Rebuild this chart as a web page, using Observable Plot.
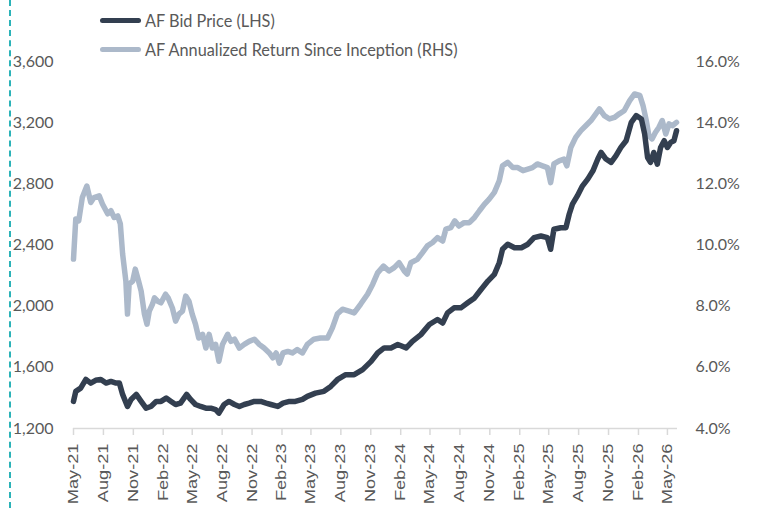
<!DOCTYPE html>
<html>
<head>
<meta charset="utf-8">
<script src="https://cdn.jsdelivr.net/npm/d3@7"></script>
<script src="https://cdn.jsdelivr.net/npm/@observablehq/plot@0.6"></script>
<style>
  body { margin: 0; background: #fff; }
  #wrap { position: relative; width: 757px; height: 508px; overflow: hidden; font-family: Lato, sans-serif; background: #fff; }
  #dash { position: absolute; left: 9px; top: 0; height: 508px; border-left: 2px dashed #2bb3b8; }
  #legend { position: absolute; left: 100px; top: 0; color: #595959; font-size: 16.3px; }
  .row { position: absolute; left: 0; display: flex; align-items: center; white-space: nowrap; height: 20px; }
  .sw { width: 41px; height: 5px; border-radius: 3px; margin-right: 4px; }
</style>
</head>
<body>
<div id="wrap">
  <div id="chart"></div>
  <div id="dash"></div>
  <div id="legend"></div>
</div>
<script>
// ---- Data ----
const seriesNames = ["AF Bid Price (LHS)", "AF Annualized Return Since Inception (RHS)"];
const seriesColors = ["#333f50", "#acb9ca"];

const priceDates = ["2021-05-01","2021-05-08","2021-05-23","2021-06-08","2021-06-23","2021-07-08","2021-07-24","2021-08-09","2021-08-24","2021-09-09","2021-09-19","2021-09-29","2021-10-14","2021-10-25","2021-11-10","2021-11-25","2021-12-10","2021-12-25","2022-01-10","2022-01-25","2022-02-10","2022-02-25","2022-03-11","2022-03-26","2022-04-14","2022-04-26","2022-05-11","2022-05-27","2022-06-12","2022-06-27","2022-07-12","2022-07-22","2022-08-07","2022-08-22","2022-09-08","2022-09-23","2022-10-08","2022-10-23","2022-11-08","2022-11-28","2022-12-14","2022-12-29","2023-01-19","2023-02-04","2023-02-24","2023-03-14","2023-04-05","2023-04-20","2023-05-15","2023-06-10","2023-07-01","2023-07-21","2023-08-16","2023-09-11","2023-10-07","2023-11-02","2023-11-22","2023-12-12","2024-01-02","2024-01-23","2024-02-18","2024-03-08","2024-04-03","2024-04-29","2024-05-24","2024-06-09","2024-06-24","2024-07-14","2024-08-04","2024-08-25","2024-09-15","2024-10-05","2024-10-26","2024-11-15","2024-11-30","2024-12-10","2024-12-26","2025-01-16","2025-02-06","2025-02-26","2025-03-17","2025-04-07","2025-04-27","2025-05-07","2025-05-17","2025-06-07","2025-06-23","2025-07-03","2025-07-13","2025-07-28","2025-08-13","2025-08-29","2025-09-14","2025-09-29","2025-10-09","2025-10-24","2025-11-09","2025-11-24","2025-12-09","2025-12-25","2026-01-10","2026-01-25","2026-02-10","2026-02-20","2026-03-01","2026-03-10","2026-03-20","2026-03-31","2026-04-10","2026-04-21","2026-05-01","2026-05-11","2026-05-21","2026-05-29"];
const priceValues = [1377,1443,1464,1521,1497,1515,1521,1497,1508,1497,1497,1423,1344,1390,1423,1377,1333,1344,1377,1377,1399,1377,1357,1366,1423,1390,1357,1344,1333,1333,1323,1300,1357,1377,1357,1344,1357,1366,1377,1377,1366,1357,1344,1366,1377,1377,1390,1410,1431,1443,1475,1519,1552,1552,1585,1639,1694,1727,1727,1749,1727,1770,1814,1880,1913,1890,1956,1989,1989,2022,2054,2109,2164,2208,2284,2372,2405,2382,2382,2405,2448,2459,2448,2372,2503,2513,2513,2601,2667,2721,2787,2831,2885,2962,3005,2962,2940,2984,3038,3082,3202,3246,3224,3126,2972,2940,3005,2929,3038,3082,3038,3071,3082,3147];

const returnDates = ["2021-05-01","2021-05-08","2021-05-17","2021-05-28","2021-06-11","2021-06-23","2021-07-03","2021-07-19","2021-07-29","2021-08-14","2021-08-24","2021-09-03","2021-09-14","2021-09-22","2021-09-29","2021-10-09","2021-10-14","2021-10-19","2021-10-30","2021-11-07","2021-11-17","2021-11-25","2021-12-05","2021-12-13","2021-12-20","2021-12-30","2022-01-05","2022-01-15","2022-01-25","2022-02-08","2022-02-16","2022-03-01","2022-03-11","2022-03-21","2022-04-01","2022-04-11","2022-04-21","2022-05-01","2022-05-11","2022-05-21","2022-06-02","2022-06-12","2022-06-22","2022-07-02","2022-07-12","2022-07-22","2022-08-02","2022-08-18","2022-08-28","2022-09-08","2022-09-23","2022-10-08","2022-10-23","2022-11-08","2022-11-23","2022-12-08","2022-12-24","2023-01-04","2023-01-14","2023-01-24","2023-02-04","2023-02-19","2023-03-05","2023-03-20","2023-04-05","2023-04-20","2023-05-10","2023-05-30","2023-06-21","2023-07-06","2023-07-21","2023-08-06","2023-08-26","2023-09-11","2023-10-01","2023-10-22","2023-11-07","2023-11-22","2023-12-10","2023-12-27","2024-01-12","2024-01-27","2024-02-12","2024-02-21","2024-03-03","2024-03-23","2024-04-08","2024-04-23","2024-05-09","2024-05-24","2024-06-09","2024-06-19","2024-07-04","2024-07-16","2024-07-29","2024-08-14","2024-08-30","2024-09-15","2024-09-30","2024-10-15","2024-10-30","2024-11-15","2024-11-30","2024-12-10","2024-12-26","2025-01-11","2025-01-26","2025-02-11","2025-02-26","2025-03-12","2025-03-27","2025-04-12","2025-04-27","2025-05-07","2025-05-17","2025-06-02","2025-06-17","2025-06-26","2025-07-08","2025-07-23","2025-08-08","2025-08-23","2025-09-08","2025-09-23","2025-10-04","2025-10-19","2025-11-04","2025-11-19","2025-12-04","2025-12-19","2026-01-05","2026-01-20","2026-02-05","2026-02-15","2026-02-25","2026-03-05","2026-03-15","2026-03-25","2026-04-05","2026-04-15","2026-04-26","2026-05-06","2026-05-16","2026-05-29"];
const returnValues = [9.54,10.85,10.79,11.55,11.93,11.39,11.55,11.61,11.34,11.02,11.12,10.90,10.95,10.69,9.71,8.82,7.74,8.72,8.82,9.21,8.82,8.49,7.74,7.41,7.84,8.07,8.27,8.16,8.11,8.39,8.27,7.94,7.51,7.74,7.84,8.33,8.16,7.74,7.41,6.96,7.08,6.63,7.08,6.63,6.75,6.20,6.75,7.08,6.85,6.92,6.63,6.75,6.85,6.92,6.75,6.63,6.47,6.31,6.47,6.14,6.47,6.52,6.47,6.58,6.47,6.75,6.92,6.96,6.96,7.29,7.74,7.90,7.84,7.78,8.07,8.39,8.72,9.09,9.31,9.15,9.26,9.42,9.15,9.05,9.42,9.53,9.75,9.97,10.08,10.24,10.13,10.52,10.57,10.79,10.62,10.73,10.73,10.90,11.12,11.33,11.50,11.72,12.10,12.59,12.70,12.53,12.53,12.43,12.48,12.53,12.65,12.59,12.53,12.04,12.65,12.75,12.81,12.59,13.19,13.52,13.74,13.90,14.07,14.29,14.45,14.23,14.12,14.17,14.29,14.39,14.72,14.94,14.89,14.56,14.07,13.57,13.47,13.68,13.85,14.07,13.63,13.96,13.90,14.01];

const leftTicks = [1200, 1600, 2000, 2400, 2800, 3200, 3600];
const rightTicks = [4, 6, 8, 10, 12, 14, 16];
const xTicks = ["2021-05-01","2021-08-01","2021-11-01","2022-02-01","2022-05-01","2022-08-01","2022-11-01","2023-02-01","2023-05-01","2023-08-01","2023-11-01","2024-02-01","2024-05-01","2024-08-01","2024-11-01","2025-02-01","2025-05-01","2025-08-01","2025-11-01","2026-02-01","2026-05-01"];
const xDomain = ["2021-05-01", "2026-06-01"];

// ---- Build ----
// right axis (RHS, %) mapped linearly onto the left axis range
const leftMin = 1200, leftMax = 3600, rightMin = 4, rightMax = 16;
const toLeft = p => leftMin + (p - rightMin) * (leftMax - leftMin) / (rightMax - rightMin);
const toRight = v => rightMin + (v - leftMin) * (rightMax - rightMin) / (leftMax - leftMin);

const priceData = priceDates.map((d, i) => ({date: new Date(d), value: priceValues[i]}));
const returnData = returnDates.map((d, i) => ({date: new Date(d), value: toLeft(returnValues[i])}));

const chart = Plot.plot({
  width: 757,
  height: 508,
  marginLeft: 73,
  marginRight: 80,
  marginTop: 61,
  marginBottom: 80,
  style: {fontFamily: "Lato, sans-serif", fontSize: "16px", color: "#595959", background: "white"},
  x: {type: "utc", domain: xDomain.map(d => new Date(d))},
  y: {domain: [leftMin, leftMax]},
  marks: [
    Plot.axisY({ticks: leftTicks, tickSize: 0, tickPadding: 20, tickFormat: d3.format(","), label: null, fill: "#595959", fontSize: 16}),
    Plot.axisY({anchor: "right", ticks: rightTicks.map(toLeft), tickSize: 0, tickPadding: 18, tickFormat: v => toRight(v).toFixed(1) + "%", label: null, fill: "#595959", fontSize: 16}),
    Plot.ruleY([leftMin], {stroke: "#d9d9d9", strokeWidth: 1.5}),
    Plot.axisX({ticks: xTicks.map(d => new Date(d)), tickFormat: d3.utcFormat("%b-%y"), tickRotate: -90, tickSize: 7, tickPadding: 8, stroke: "#d9d9d9", strokeWidth: 1.5, fill: "#595959", fontFamily: "Liberation Sans, Arial, sans-serif", fontSize: 14, label: null}),
    Plot.line(returnData, {x: "date", y: "value", stroke: seriesColors[1], strokeWidth: 5.5, strokeLinejoin: "round", strokeLinecap: "round"}),
    Plot.line(priceData, {x: "date", y: "value", stroke: seriesColors[0], strokeWidth: 5.5, strokeLinejoin: "round", strokeLinecap: "round"})
  ]
});
document.getElementById("chart").appendChild(chart);

// stretch the rotated x tick labels along their baseline to match the reference's wide lettering
chart.querySelectorAll('g[aria-label="x-axis tick label"] text').forEach(t => {
  const tr = t.getAttribute("transform");
  if (tr) t.setAttribute("transform", tr + " scale(1.3,1)");
});

// legend
const legend = document.getElementById("legend");
const rowTops = [10, 39];
seriesNames.forEach((name, i) => {
  const row = document.createElement("div");
  row.className = "row";
  row.style.top = rowTops[i] + "px";
  const sw = document.createElement("div");
  sw.className = "sw";
  sw.style.background = seriesColors[i];
  const tx = document.createElement("span");
  tx.textContent = name;
  row.appendChild(sw);
  row.appendChild(tx);
  legend.appendChild(row);
});
</script>
</body>
</html>
